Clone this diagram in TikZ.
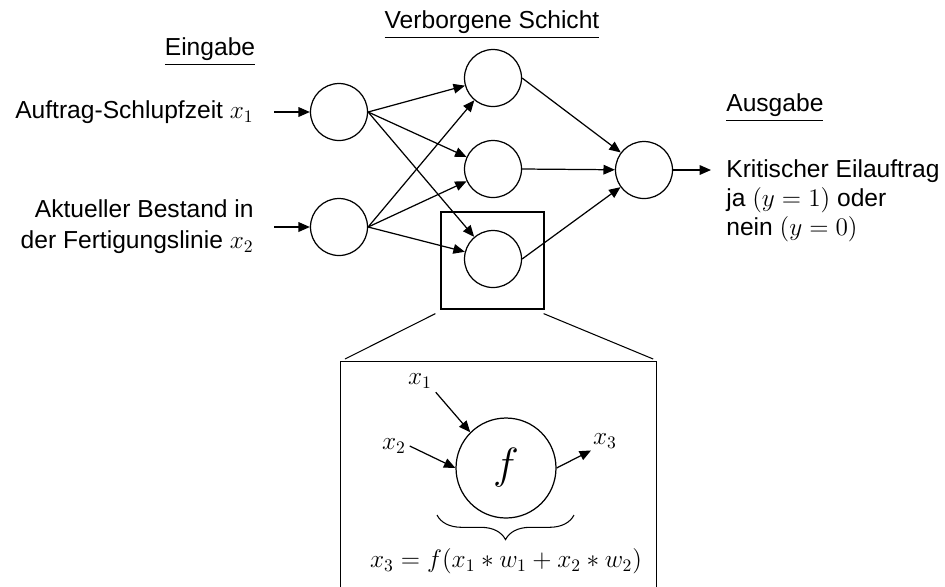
\documentclass[tikz,border=0pt]{standalone}
\usepackage{amsmath}
\usepackage{fontspec}
\setmainfont{Liberation Sans}
\usetikzlibrary{arrows.meta,calc,decorations.pathreplacing}

\begin{document}
\begin{tikzpicture}[x=0.02cm,y=-0.02cm,
  neuron/.style={draw,circle,line width=0.7pt,minimum size=1.14cm,inner sep=0pt},
  arr/.style={-{Triangle[length=6.5pt,width=5.5pt]},line width=0.7pt},
  txt/.style={font=\fontsize{14}{16.5}\selectfont,inner sep=0pt}]
\useasboundingbox (0,0) rectangle (945,586);
% Layer titles
\node[txt] (tin) at (210,52) {\underline{Eingabe}};
\node[txt] (thid) at (492,25) {\underline{Verborgene Schicht}};
\node[txt,anchor=west] (tout) at (726,108) {\underline{Ausgabe}};
% Neurons
\node[neuron] (i1) at (339,112) {};
\node[neuron] (i2) at (339,227) {};
\foreach \h/\y in {1/78,2/169,3/259} {
  \node[neuron] (h\h) at (493,\y) {};
}
\node[neuron] (o) at (644,170) {};
% Input labels
\node[txt,anchor=east] (l1) at (254,112) {Auftrag-Schlupfzeit $x_1$};
\node[txt,anchor=east,align=right,font=\fontsize{14}{17.5}\selectfont] (l2) at (254,227) {Aktueller Bestand in\\der Fertigungslinie $x_2$};
\coordinate (a1) at (274,112);
\coordinate (a2) at (274,227);
\draw[arr] (a1) -- (i1);
\draw[arr] (a2) -- (i2);
% Weights
\foreach \i in {1,2} {
  \foreach \h in {1,2,3} {
    \draw[arr] (i\i.east) -- (h\h);
  }
}
\foreach \h in {1,2,3} {
  \draw[arr] (h\h.east) -- (o);
}
% Output
\coordinate (oend) at (711,170);
\draw[arr] (o) -- (oend);
\node[txt,anchor=north west,align=left] (lout) at (726,159) {Kritischer Eilauftrag\\ja $(y = 1)$ oder\\nein $(y = 0)$};
% Detail of one neuron
\node[draw,line width=0.7pt,minimum width=2.06cm,minimum height=1.94cm] (zbox) at (492.5,260.5) {};
\node[draw,line width=0.7pt,minimum width=6.32cm,minimum height=5cm,anchor=north west] (detail) at (340,361) {};
\draw[line width=0.6pt] ($(zbox.south west)+(-5,4)$) -- ($(detail.north west)+(5,-2)$);
\draw[line width=0.6pt] ($(zbox.south east)+(-1,4)$) -- ($(detail.north east)+(-4,-2)$);
\node[draw,circle,line width=0.7pt,minimum size=2cm,inner sep=0pt,font=\fontsize{25}{27}\selectfont] (fn) at (506,468) {$f$};
\node[txt,inner sep=2pt] (x1l) at (420,381) {$x_1$};
\node[txt,inner sep=2pt] (x2l) at (394,446) {$x_2$};
\node[txt,inner sep=1pt] (x3l) at (605,441) {$x_3$};
\draw[arr] (x1l.south east) -- (fn.135);
\draw[arr] (x2l.east) -- (fn.west);
\draw[arr] (fn.east) -- (x3l.south west);
\coordinate (bl) at (437,515);
\coordinate (br) at (574,515);
\draw[line width=0.6pt,decorate,decoration={brace,mirror,amplitude=14pt}] (bl) -- (br);
\node[txt] (eq) at (506,561) {$x_3 = f(x_1 * w_1 + x_2 * w_2)$};
\end{tikzpicture}
\end{document}
